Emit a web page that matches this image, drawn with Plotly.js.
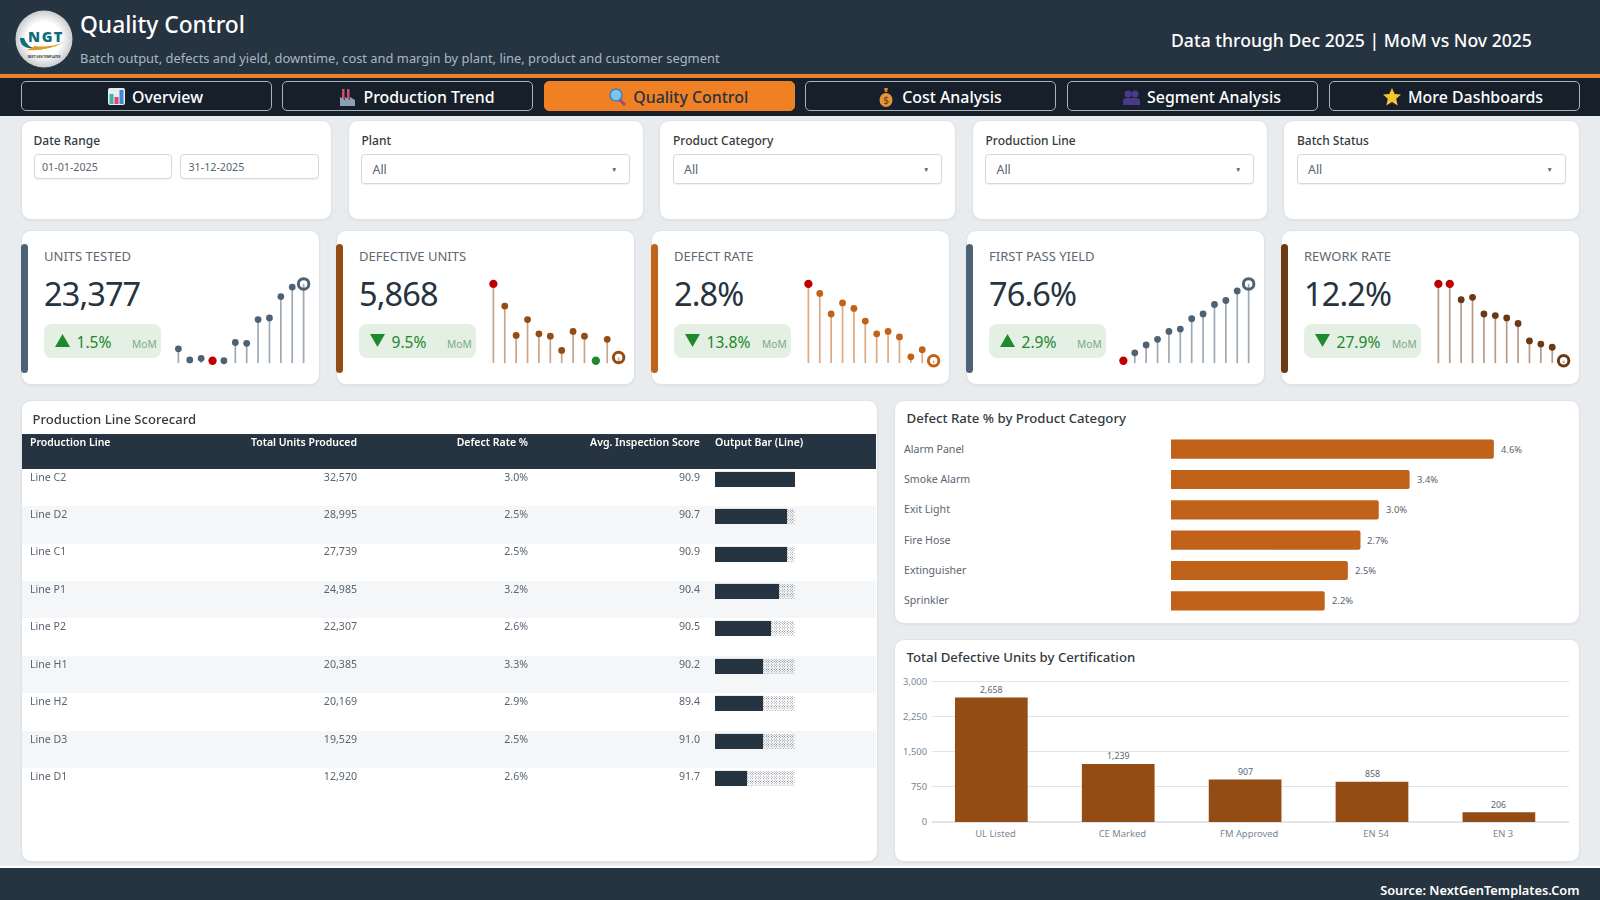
<!DOCTYPE html>
<html><head><meta charset="utf-8">
<script src="https://cdn.plot.ly/plotly-3.0.1.min.js"></script>
<style>
html,body{margin:0;padding:0;width:1600px;height:900px;overflow:hidden;background:#e9ecef;font-family:'Noto Sans','Open Sans',sans-serif;color:#263340}
.a{position:absolute;white-space:nowrap;box-sizing:border-box}
.card{background:#fff;border:1px solid #dfe2e6;border-radius:10px;box-shadow:0 1px 2px rgba(0,0,0,.05)}
.tab{display:flex;align-items:center;justify-content:center;gap:7px;top:80.8px;height:30.5px;padding-left:18px;padding-top:1.5px;border:1px solid #a9b3bc;border-radius:5px;background:#17202a;color:#fff;font-size:15.9px;font-weight:500}
.tab.on{background:#f08024;border-color:#f08024;color:#263340}
.ic{display:flex;justify-content:center;width:18px}
.lab{font-size:12px;font-weight:500;color:#343a40;transform:translateY(-50%)}
.inp{background:#fff;border:1px solid #d5d9dd;border-radius:4px;box-shadow:0 1px 1px rgba(0,0,0,.06)}
.kt{font-size:13px;color:#5c6873;transform:translateY(-50%)}
.kv{font-size:32.5px;letter-spacing:-.9px;color:#263340;transform:translateY(-50%)}
.bd{background:#e3f0e3;border-radius:8px;top:324px;height:33.5px;width:117px}
.bt{font-size:15.6px;color:#23872e;transform:translateY(-50%)}
.bm{font-size:10.2px;color:#7fa98a;transform:translateY(-50%)}
.pl{position:absolute}
#table{will-change:transform}
#table .cell-text{transform:translateY(-4px)}
#table g.y-column:last-of-type .cell-text{transform:translate(-1px,-4px)}
</style></head><body>
<div class="a" style="left:0;top:0;width:1600px;height:74px;background:#263340"></div>
<div class="a" style="left:0;top:73.5px;width:1600px;height:4px;background:#e8802c"></div>
<div class="a" style="left:0;top:77.5px;width:1600px;height:38px;background:#17202a"></div>
<svg class="a" style="left:15px;top:10px" width="58" height="58" viewBox="0 0 58 58">
<defs><radialGradient id="lg"><stop offset="0.6" stop-color="#fff"/><stop offset="1" stop-color="#c9ccce"/></radialGradient></defs>
<circle cx="29" cy="29" r="28.5" fill="url(#lg)"/>
<text x="31" y="32" text-anchor="middle" font-size="14.5" font-weight="800" fill="#0f6e7c" font-family="'Open Sans'" letter-spacing="1.5">NGT</text>
<path d="M5 28 Q5 40 22 38 Q12 38 9 28Z" fill="#0f6e7c"/>
<path d="M12 40 Q30 42 50 32 Q34 38 20 36Z" fill="#e09a2a"/>
<text x="29" y="48" text-anchor="middle" font-size="3" font-weight="700" fill="#333" font-family="'Open Sans'">NEXT GEN TEMPLATES</text>
</svg>
<div class="a" id="h1" style="left:80px;top:24.2px;transform:translateY(-50%);font-size:22.8px;font-weight:500;color:#fff">Quality Control</div>
<div class="a" id="h2" style="left:80px;top:57.8px;transform:translateY(-50%);font-size:12.9px;color:#a9b7c4">Batch output, defects and yield, downtime, cost and margin by plant, line, product and customer segment</div>
<div class="a" id="h3" style="left:1171px;top:39.5px;transform:translateY(-50%);font-size:17.6px;font-weight:500;color:#fff">Data through Dec 2025 | MoM vs Nov 2025</div>
<div id="chrome"></div>
<div class="a" style="left:0;top:866px;width:1600px;height:1.5px;background:#fff"></div>
<div class="a" style="left:0;top:867.5px;width:1600px;height:32.5px;background:#263340"></div>
<div class="a" id="src" style="right:20.5px;top:889.5px;transform:translateY(-50%);font-size:12.8px;font-weight:600;color:#fff">Source: NextGenTemplates.Com</div>
<script>
// ---------- data ----------
const tabNames = ['Overview','Production Trend','Quality Control','Cost Analysis','Segment Analysis','More Dashboards'];
const filterNames = ['Date Range','Plant','Product Category','Production Line','Batch Status'];
const months = ['Jan','Feb','Mar','Apr','May','Jun','Jul','Aug','Sep','Oct','Nov','Dec'];
const kpiNames = ['UNITS TESTED','DEFECTIVE UNITS','DEFECT RATE','FIRST PASS YIELD','REWORK RATE'];
const kpiValues = ['23,377','5,868','2.8%','76.6%','12.2%'];
const kpiDeltas = ['1.5%','9.5%','13.8%','2.9%','27.9%'];
const kpiUp = [true,false,false,true,false];
const sparkUnits = [18,4,6,3,3,26,25,55,57,84,96,100];
const sparkDefective = [100,72,35,55,37,34,16,40,34,3,30,7];
const sparkRate = [100,88,62,76,69,53,37,40,33,8,17,3];
const sparkYield = [3,13,23,30,40,43,56,62,74,79,91,100];
const sparkRework = [100,100,80,83,62,60,57,50,28,24,20,3];
const lineNames = ['Line C2','Line D2','Line C1','Line P1','Line P2','Line H1','Line H2','Line D3','Line D1'];
const lineUnits = ['32,570','28,995','27,739','24,985','22,307','20,385','20,169','19,529','12,920'];
const lineDefect = ['3.0%','2.5%','2.5%','3.2%','2.6%','3.3%','2.9%','2.5%','2.6%'];
const lineScore = ['90.9','90.7','90.9','90.4','90.5','90.2','89.4','91.0','91.7'];
const lineBlocks = [10,9,9,8,7,6,6,6,4];
const categories = ['Alarm Panel','Smoke Alarm','Exit Light','Fire Hose','Extinguisher','Sprinkler'];
const categoryRate = [4.6,3.4,2.96,2.7,2.52,2.19];
const certs = ['UL Listed','CE Marked','FM Approved','EN 54','EN 3'];
const certDefects = [2658,1239,907,858,206];

const FONT = "'Noto Sans','Open Sans',sans-serif";
const NAVY='#263340', SLATE='#4d6375', BROWN='#934c13', ORANGE='#c1621a', DARK='#6b3a15', RED='#c00000', GREEN='#1e8a2e';

// ---------- page chrome ----------
const icons = [
 '<svg width="17" height="17" viewBox="0 0 17 17"><rect width="17" height="17" rx="2" fill="#e8edf0"/><rect x="1.5" y="6" width="4" height="10" fill="#46b0a8"/><rect x="6.5" y="9" width="4" height="7" fill="#e0457a"/><rect x="11.5" y="2" width="4" height="14" fill="#3f88d0"/></svg>',
 '<svg width="17" height="18" viewBox="0 0 17 18"><rect x="3" y="1" width="2.5" height="10" fill="#d0506a"/><rect x="8" y="1" width="2.5" height="10" fill="#d0506a"/><path d="M1 18V9l5 3V9l5 3V9l5 3v6z" fill="#8aa0b4"/></svg>',
 '<svg width="17" height="18" viewBox="0 0 17 18"><line x1="10" y1="11" x2="16" y2="17" stroke="#a04a7a" stroke-width="3"/><circle cx="7" cy="7" r="6" fill="#7cc4ee" stroke="#3d80c0" stroke-width="1.5"/></svg>',
 '<svg width="14" height="20" viewBox="0 0 14 20"><path d="M5 1h4l-1 4h-2z" fill="#d98a2a"/><ellipse cx="7" cy="13" rx="6.5" ry="7" fill="#e8953a"/><text x="7" y="17" font-size="10" text-anchor="middle" fill="#7a4310">$</text></svg>',
 '<svg width="17" height="16" viewBox="0 0 17 16"><circle cx="5" cy="5" r="3.5" fill="#4b3a8c"/><circle cx="12" cy="5" r="3.5" fill="#4b3a8c"/><path d="M0 16v-4q0-3 4-3h9q4 0 4 3v4z" fill="#4b3a8c"/></svg>',
 '<svg width="18" height="18" viewBox="0 0 18 18"><path d="M9 0l2.7 6 6.3.6-4.8 4.2 1.5 6.7L9 14l-5.7 3.5 1.5-6.7L0 6.6 6.3 6z" fill="#f5c430"/></svg>'
];
const tabX = [[20.5,271.5],[282,533],[543.5,795],[805,1056],[1067,1318],[1328.5,1579.5]];
const filterX = [[20.5,332],[347.5,644],[659,956],[971.5,1268],[1283,1579.5]];
const kpiX = [20.5,335.5,650.5,965.5,1280.5];
const kpiColor = [SLATE,BROWN,ORANGE,SLATE,DARK];
let h='';
tabNames.forEach((t,i)=>{h+=`<div class="a tab${i==2?' on':''}" style="left:${tabX[i][0]}px;width:${tabX[i][1]-tabX[i][0]}px"><span class="ic">${icons[i]}</span><span>${t}</span></div>`;});
filterNames.forEach((t,i)=>{
 const [a,b]=filterX[i];
 h+=`<div class="a card" style="left:${a}px;top:120px;width:${b-a}px;height:99.5px"></div>`;
 h+=`<div class="a lab" style="left:${a+(i?14:13)}px;top:139.8px">${t}</div>`;
 if(i==0){
  [[33.5,172,'01-01-2025'],[180,318.5,'31-12-2025']].forEach(d=>{
   h+=`<div class="a inp" style="left:${d[0]}px;top:154px;width:${d[1]-d[0]}px;height:24.5px"></div><div class="a" style="left:${d[0]+8.5}px;top:166.5px;transform:translateY(-50%);font-size:10.7px;color:#5a6570">${d[2]}</div>`;});
 } else {
  h+=`<div class="a inp" style="left:${a+13.5}px;top:154px;width:${b-a-27.5}px;height:29.5px"></div><div class="a" style="left:${a+25}px;top:169.3px;transform:translateY(-50%);font-size:12.4px;color:#5a6570">All</div><div class="a" style="left:${b-33}px;top:168.5px;transform:translateY(-50%);font-size:6.5px;color:#5a6570">▼</div>`;
 }
});
kpiNames.forEach((t,i)=>{
 const x=kpiX[i];
 h+=`<div class="a card" style="left:${x}px;top:230px;width:299px;height:154.8px"></div>`;
 h+=`<div class="a" style="left:${x+.5}px;top:244px;width:6.5px;height:129px;border-radius:4px;background:${kpiColor[i]}"></div>`;
 h+=`<div class="a kt" style="left:${x+23.5}px;top:256px">${t}</div>`;
 h+=`<div class="a kv" style="left:${x+23.5}px;top:292.6px">${kpiValues[i]}</div>`;
 h+=`<div class="a bd" style="left:${x+23.5}px"></div>`;
 h+=`<svg class="a" style="left:${x+34}px;top:334px" width="15" height="13" viewBox="0 0 15 13"><path d="${kpiUp[i]?'M7.5 0L15 13H0Z':'M7.5 13L15 0H0Z'}" fill="${GREEN}"/></svg>`;
 h+=`<div class="a bt" style="left:${x+56}px;top:341.6px">${kpiDeltas[i]}</div>`;
 h+=`<div class="a bm" style="left:${x+111.5}px;top:344px">MoM</div>`;
});
document.getElementById('chrome').innerHTML=h+
 kpiNames.map((t,i)=>`<div class="pl" id="sp${i}"></div>`).join('')+
 `<div class="a card" style="left:20.5px;top:400px;width:857px;height:462px"></div><div class="pl" id="table"></div>`+
 `<div class="a card" style="left:893.5px;top:400px;width:686px;height:223.8px"></div><div class="pl" id="cat"></div>`+
 `<div class="a card" style="left:893.5px;top:639px;width:686px;height:223px"></div><div class="pl" id="cert"></div>`;

// ---------- sparklines ----------
const STEP=11.36, PXU=0.796;
const sparkFirst=[178.4,493.5,808.6,1123.7,1438.7];
const sparks=[sparkUnits,sparkDefective,sparkRate,sparkYield,sparkRework];
const stemColor=['rgba(77,99,117,.55)','rgba(147,76,19,.5)','rgba(193,98,26,.55)','rgba(77,99,117,.55)','rgba(107,58,21,.5)'];
const sparkRed=[[3],[0],[0],[0],[0,1]];
const sparkGreen=[[],[9],[],[],[]];
sparks.forEach((vals,i)=>{
 const el=document.getElementById('sp'+i);
 Object.assign(el.style,{left:(sparkFirst[i]-STEP)+'px',top:(283.7-15*PXU)+'px',width:(13*STEP)+'px',height:(130*PXU)+'px'});
 const cols=vals.map((v,k)=>sparkRed[i].includes(k)?RED:sparkGreen[i].includes(k)?GREEN:kpiColor[i]);
 Plotly.newPlot(el,[{type:'scatter',mode:'markers',x:months,y:vals,cliponaxis:false,hoverinfo:'skip',
   error_y:{type:'data',symmetric:false,array:vals.map(()=>0),arrayminus:vals,width:0,thickness:1.7,color:stemColor[i]},
   marker:{color:cols,opacity:1,symbol:vals.map((v,k)=>k==11?'circle-open':'circle'),
     size:vals.map((v,k)=>k==11?10.5:cols[k]==kpiColor[i]?6.8:8.3),
     line:{color:cols,width:vals.map((v,k)=>k==11?3:0)}}}],
  {margin:{l:0,r:0,t:0,b:0},paper_bgcolor:'rgba(0,0,0,0)',plot_bgcolor:'rgba(0,0,0,0)',showlegend:false,
   xaxis:{type:'category',visible:false,range:[-1,12]},yaxis:{visible:false,range:[-15,115]}},{staticPlot:true,displayModeBar:false});
});

// ---------- scorecard table ----------
const tEl=document.getElementById('table');
Object.assign(tEl.style,{left:'21px',top:'400.7px',width:'856px',height:'460.5px'});
const blockText=lineBlocks.map(n=>'█'.repeat(n)+'░'.repeat(10-n));
const rowFill=lineNames.map((n,k)=>k%2?'#f5f6f8':'#ffffff');
Plotly.newPlot(tEl,[{type:'table',domain:{x:[1/856,855/856],y:[0,1-33/460.5]},
  columnwidth:[172,171,171,172,168],
  header:{values:['Production Line','Total Units Produced','Defect Rate %','Avg. Inspection Score','Output Bar (Line)'],height:34.6,
    align:['left','right','right','right','left'],fill:{color:NAVY},line:{width:0,color:NAVY},
    font:{family:FONT,size:10.5,color:'#fff',weight:600}},
  cells:{values:[lineNames,lineUnits,lineDefect,lineScore,blockText],height:37.45,
    align:['left','right','right','right','left'],fill:{color:[rowFill,rowFill,rowFill,rowFill,rowFill]},line:{width:0,color:'rgba(0,0,0,0)'},
    font:{family:[FONT,FONT,FONT,FONT,"'Liberation Mono'"],size:[10.6,10.6,10.6,10.6,13.34],color:['#5a6570','#5a6570','#5a6570','#5a6570',NAVY]}}
 }],{margin:{l:0,r:0,t:0,b:0},paper_bgcolor:'rgba(0,0,0,0)',
  title:{text:'Production Line Scorecard',font:{family:FONT,size:13.1,color:'#343a40',weight:500},x:11.5/856,xanchor:'left',xref:'paper',yref:'container',y:1-18.3/460.5,yanchor:'middle',pad:{t:0,b:0,l:0,r:0}}},
 {staticPlot:true,displayModeBar:false});

// ---------- defect rate by category ----------
const cEl=document.getElementById('cat');
Object.assign(cEl.style,{left:'894.5px',top:'400.7px',width:'684.5px',height:'222.5px'});
Plotly.newPlot(cEl,[{type:'bar',orientation:'h',y:categories,x:categoryRate,width:0.63,
   marker:{color:ORANGE,cornerradius:2},hoverinfo:'skip'}],
 {margin:{l:275.8,r:22.7,t:33.2,b:7.8},paper_bgcolor:'rgba(0,0,0,0)',plot_bgcolor:'rgba(0,0,0,0)',showlegend:false,
  title:{text:'Defect Rate % by Product Category',font:{family:FONT,size:13.2,color:'#343a40',weight:500},x:11.5/684.5,xanchor:'left',xref:'container',yref:'container',y:1-17.3/222.5,yanchor:'middle',pad:{t:0,b:0,l:0,r:0}},
  xaxis:{visible:false,range:[0,5.5]},
  yaxis:{type:'category',autorange:false,range:[5.5,-0.5],showticklabels:false,showgrid:false,zeroline:false,showline:false,ticks:''},
  annotations:categories.map(c=>({xref:'paper',x:0,xshift:-269,yshift:0.5,xanchor:'left',yref:'y',y:c,text:c,showarrow:false,font:{family:FONT,size:10.6,color:'#5a6570'}}))
   .concat(categories.map((c,k)=>({xref:'x',x:categoryRate[k],xshift:5,xanchor:'left',yref:'y',y:c,text:categoryRate[k].toFixed(1)+'%',showarrow:false,font:{family:FONT,size:9.4,color:'#5a6570'}})))},
 {staticPlot:true,displayModeBar:false});

// ---------- defective by certification ----------
const dEl=document.getElementById('cert');
Object.assign(dEl.style,{left:'894.5px',top:'639.7px',width:'684.5px',height:'222px'});
Plotly.newPlot(dEl,[{type:'bar',x:certs,y:certDefects,width:0.573,offset:-0.319,marker:{color:BROWN},hoverinfo:'skip'}],
 {margin:{l:37.2,r:10.6,t:39.9,b:40.4},paper_bgcolor:'rgba(0,0,0,0)',plot_bgcolor:'rgba(0,0,0,0)',showlegend:false,
  title:{text:'Total Defective Units by Certification',font:{family:FONT,size:13.2,color:'#343a40',weight:500},x:11.5/684.5,xanchor:'left',xref:'container',yref:'container',y:1-17.3/222,yanchor:'middle',pad:{t:0,b:0,l:0,r:0}},
  xaxis:{type:'category',range:[-0.5,4.52],showgrid:false,zeroline:false,showline:false,ticks:'',ticklabelstandoff:5,tickfont:{family:FONT,size:9.4,color:'#7b8794'},automargin:false},
  yaxis:{range:[0,3030],tickvals:[0,750,1500,2250,3000],tickformat:',d',gridcolor:'#e2e4e7',gridwidth:1.2,zeroline:true,zerolinecolor:'#e2e4e7',zerolinewidth:1.2,showline:false,ticks:'',ticklabelstandoff:4,tickfont:{family:FONT,size:9.4,color:'#7b8794'},automargin:false},
  annotations:certs.map((c,k)=>({xref:'x',x:c,xshift:-4.1,yref:'y',y:certDefects[k],yanchor:'bottom',yshift:-0.5,text:certDefects[k].toLocaleString('en-US'),showarrow:false,font:{family:FONT,size:8.8,color:'#5a6570'}}))},
 {staticPlot:true,displayModeBar:false});
</script>
</body></html>
